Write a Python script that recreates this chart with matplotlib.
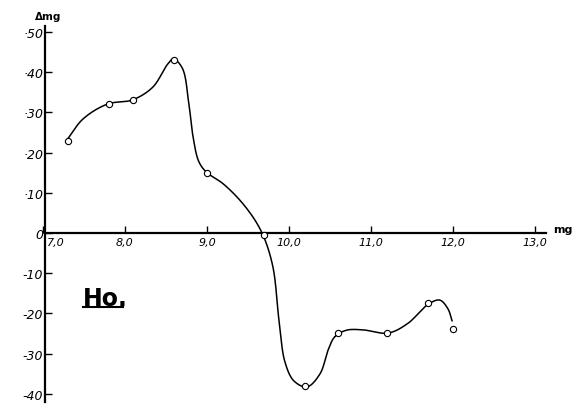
import matplotlib.pyplot as plt
import numpy as np
from matplotlib.lines import Line2D
from matplotlib.transforms import ScaledTranslation

# measured points (the small circles)
mass = [7.3, 7.8, 8.1, 8.6, 9.0, 9.7, 10.2, 10.6, 11.2, 11.7, 12.0]
delta = [23, 32, 33, 43, 15, -0.5, -38, -25, -25, -17.5, -24]

# hand drawn curve
curve_x = [7.29, 7.49, 7.79, 8.09, 8.34, 8.52, 8.59, 8.70, 8.78, 8.83, 8.90, 8.99,
           9.20, 9.45, 9.66, 9.80, 9.88, 9.95, 10.06, 10.22, 10.38, 10.48, 10.56,
           10.70, 10.90, 11.21, 11.45, 11.70, 11.84, 11.94, 11.99]
curve_y = [23.1, 28.4, 32.1, 33.1, 36.3, 42.0, 43.3, 41.0, 32.0, 24.0, 17.8, 15.2,
           12.2, 7.0, 0.5, -8.0, -22.0, -32.0, -36.8, -38.3, -35.0, -29.0, -25.8,
           -24.2, -24.1, -24.9, -22.5, -17.7, -16.7, -18.9, -21.9]

xticks = [7, 8, 9, 10, 11, 12, 13]
xlabels = ['7,0', '8,0', '9,0', '10,0', '11,0', '12,0', '13,0']
yticks = [50, 40, 30, 20, 10, 0, -10, -20, -30, -40]
ylabels = ['·50', '·40', '·30', '·20', '·10', '0', '-10', '-20', '-30', '-40']


def smooth(xs, ys, n=20, sx=20.4, alpha=0.5):
    # catmull-rom through the traced points
    p = np.column_stack([np.array(xs) * sx, np.array(ys, dtype=float)])
    p = np.vstack([2 * p[0] - p[1], p, 2 * p[-1] - p[-2]])
    out = []
    for i in range(1, len(p) - 2):
        p0, p1, p2, p3 = p[i - 1], p[i], p[i + 1], p[i + 2]
        t0 = 0.0
        t1 = t0 + np.linalg.norm(p1 - p0) ** alpha
        t2 = t1 + np.linalg.norm(p2 - p1) ** alpha
        t3 = t2 + np.linalg.norm(p3 - p2) ** alpha
        t = np.linspace(t1, t2, n)[:, None]
        a1 = (t1 - t) / (t1 - t0) * p0 + (t - t0) / (t1 - t0) * p1
        a2 = (t2 - t) / (t2 - t1) * p1 + (t - t1) / (t2 - t1) * p2
        a3 = (t3 - t) / (t3 - t2) * p2 + (t - t2) / (t3 - t2) * p3
        b1 = (t2 - t) / (t2 - t0) * a1 + (t - t0) / (t2 - t0) * a2
        b2 = (t3 - t) / (t3 - t1) * a2 + (t - t1) / (t3 - t1) * a3
        out.append((t2 - t) / (t2 - t1) * b1 + (t - t1) / (t2 - t1) * b2)
    out = np.vstack(out)
    return out[:, 0] / sx, out[:, 1]


fig = plt.figure(figsize=(5.73, 4.06), dpi=100)
ax = fig.add_axes([0.075, 0.0079, 0.880, 0.9256])

sx, sy = smooth(curve_x, curve_y)
ax.plot(sx, sy, color='black', lw=1.1, solid_capstyle='round')
ax.plot(mass, delta, 'o', ms=4.5, mfc='white', mec='black', mew=0.8, zorder=3)

ax.set_xlim(7.0, 13.15)
ax.set_ylim(-42, 51.5)

for s in ['top', 'right']:
    ax.spines[s].set_visible(False)
ax.spines['left'].set_position(('data', 7.03))
ax.spines['bottom'].set_position(('data', 0))
ax.spines['left'].set_linewidth(1.6)
ax.spines['bottom'].set_linewidth(1.6)
ax.spines['bottom'].set_bounds(7.03, 13.13)

ax.set_xticks(xticks)
ax.set_xticklabels(xlabels, fontsize=8, style='italic')
ax.set_yticks(yticks)
ax.set_yticklabels(ylabels, fontsize=9, style='italic')
ax.tick_params(axis='x', direction='in', length=5, width=1, pad=3)
ax.tick_params(axis='y', direction='in', length=5, width=1, pad=1.5)
first = ax.get_xticklabels()[0]
first.set_horizontalalignment('left')
first.set_transform(first.get_transform() + ScaledTranslation(4 / 100, 0, fig.dpi_scale_trans))

fig.text(0.061, 0.958, 'Δmg', fontsize=7.5, fontweight='bold', va='center')
fig.text(0.965, 0.433, 'mg', fontsize=8, fontweight='bold', va='center')
fig.text(0.145, 0.247, 'Ho.', fontsize=17, fontweight='bold', va='baseline')
fig.add_artist(Line2D([0.145, 0.215], [0.241, 0.241], color='black', lw=1.5))

plt.savefig('out.png', dpi=100)
